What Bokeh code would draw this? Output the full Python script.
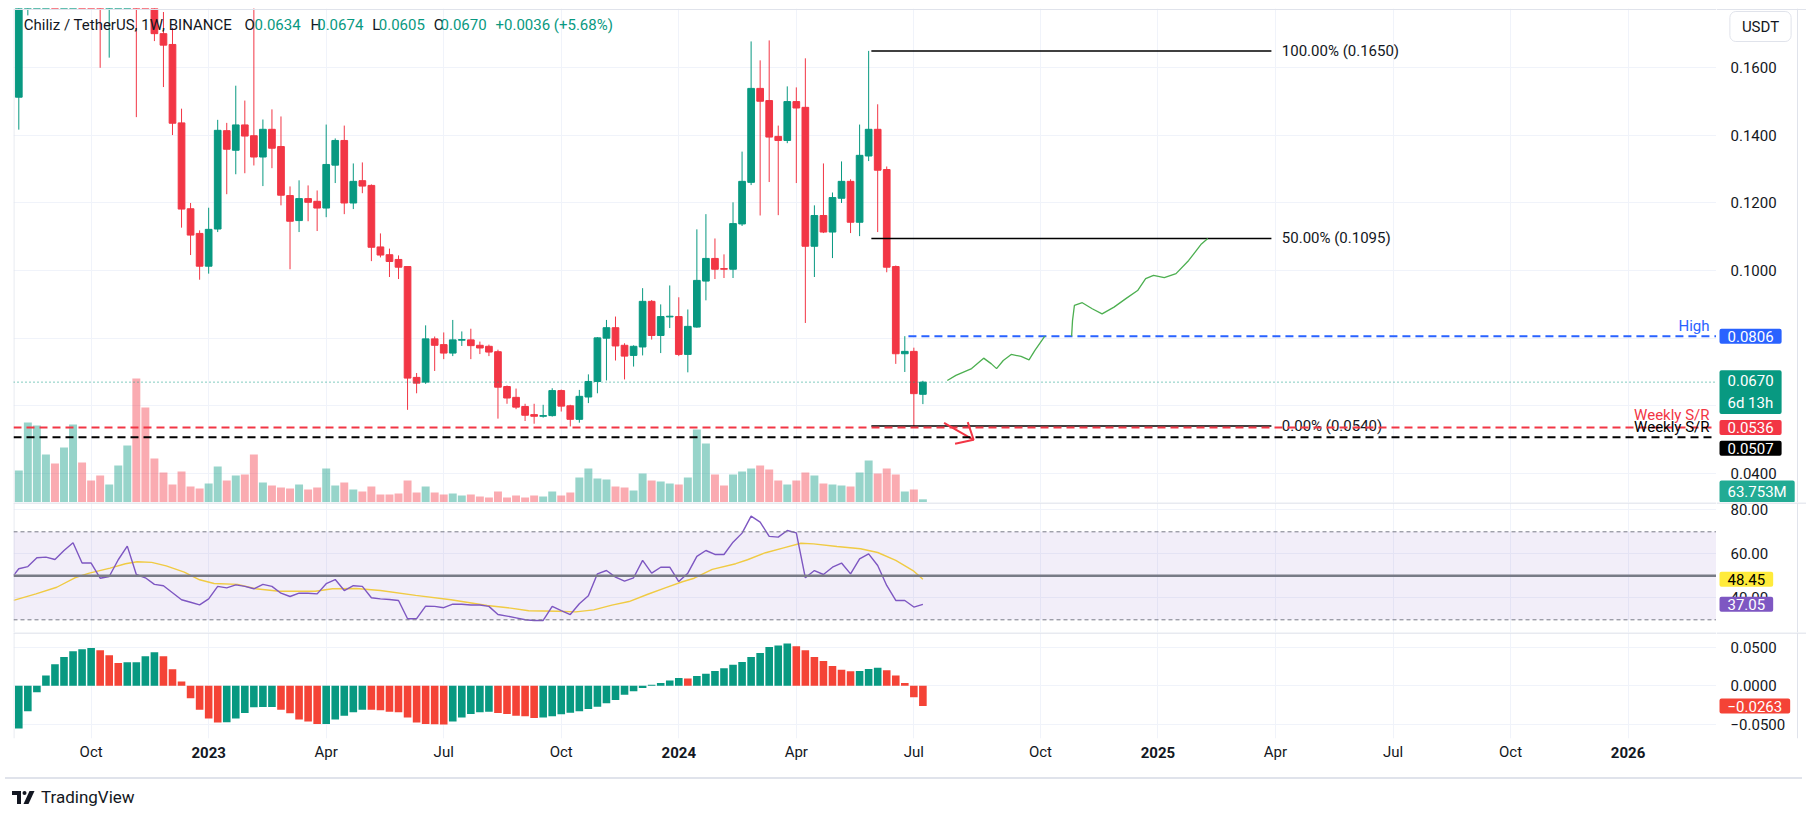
import numpy as np
from bokeh.plotting import figure
from bokeh.models import (Range1d, FixedTicker, Label, Span, BoxAnnotation, ColumnDataSource, Div,
                          LinearAxis)
from bokeh.layouts import column, row
from bokeh.embed import file_html
from bokeh.resources import INLINE
from bokeh.core.properties import value

# ---------------- data (weekly bars; x = weeks since Mon 1 Aug 2022) ----------------
weeks = list(range(1, 102))
opens = [
    0.1513, 0.2050, 0.2280, 0.2400, 0.2450, 0.2250, 0.2320, 0.2500, 0.2350, 0.2150,
    0.1900, 0.2050, 0.2150, 0.2250, 0.1900, 0.1830, 0.1701, 0.1669, 0.1437, 0.1183,
    0.1110, 0.1013, 0.1123, 0.1414, 0.1356, 0.1431, 0.1399, 0.1336, 0.1418, 0.1367,
    0.1222, 0.1148, 0.1213, 0.1205, 0.1185, 0.1312, 0.1385, 0.1200, 0.1266, 0.1252,
    0.1070, 0.1047, 0.1033, 0.1012, 0.0684, 0.0670, 0.0798, 0.0781, 0.0756, 0.0794,
    0.0795, 0.0779, 0.0776, 0.0760, 0.0657, 0.0625, 0.0598, 0.0574, 0.0569, 0.0571,
    0.0645, 0.0600, 0.0560, 0.0626, 0.0672, 0.0800, 0.0831, 0.0779, 0.0749, 0.0774,
    0.0909, 0.0808, 0.0863, 0.0864, 0.0752, 0.0833, 0.0969, 0.1036, 0.1006, 0.1004,
    0.1138, 0.1261, 0.1539, 0.1503, 0.1397, 0.1385, 0.1500, 0.1483, 0.1072, 0.1163,
    0.1114, 0.1214, 0.1264, 0.1143, 0.1339, 0.1418, 0.1299, 0.1012, 0.0754, 0.0761, 0.0634]
highs = [
    0.2150, 0.2450, 0.2550, 0.2600, 0.2500, 0.2400, 0.2650, 0.2550, 0.2400, 0.2220,
    0.2150, 0.2250, 0.2350, 0.2300, 0.1950, 0.1880, 0.1765, 0.1718, 0.1479, 0.1200,
    0.1119, 0.1186, 0.1446, 0.1437, 0.1547, 0.1503, 0.1850, 0.1447, 0.1477, 0.1456,
    0.1249, 0.1267, 0.1252, 0.1237, 0.1432, 0.1391, 0.1429, 0.1317, 0.1320, 0.1255,
    0.1110, 0.1065, 0.1045, 0.1012, 0.0697, 0.0838, 0.0805, 0.0817, 0.0854, 0.0820,
    0.0828, 0.0790, 0.0781, 0.0766, 0.0660, 0.0651, 0.0606, 0.0606, 0.0603, 0.0652,
    0.0648, 0.0603, 0.0647, 0.0693, 0.0803, 0.0854, 0.0864, 0.0785, 0.0779, 0.0948,
    0.0913, 0.0900, 0.0956, 0.0921, 0.0885, 0.1122, 0.1167, 0.1095, 0.1048, 0.1202,
    0.1352, 0.1678, 0.1622, 0.1681, 0.1429, 0.1545, 0.1542, 0.1628, 0.1193, 0.1317,
    0.1231, 0.1323, 0.1270, 0.1432, 0.1650, 0.1492, 0.1308, 0.1015, 0.0806, 0.0772, 0.0674]
lows = [
    0.1417, 0.1755, 0.2150, 0.2250, 0.2150, 0.2100, 0.2200, 0.2250, 0.2000, 0.1600,
    0.1630, 0.1950, 0.2050, 0.1454, 0.1790, 0.1679, 0.1543, 0.1401, 0.1127, 0.1046,
    0.0973, 0.0991, 0.1114, 0.1226, 0.1285, 0.1288, 0.1311, 0.1250, 0.1303, 0.1193,
    0.1004, 0.1114, 0.1146, 0.1117, 0.1158, 0.1259, 0.1167, 0.1182, 0.1229, 0.1028,
    0.1039, 0.0981, 0.0975, 0.0588, 0.0637, 0.0665, 0.0703, 0.0738, 0.0747, 0.0777,
    0.0738, 0.0753, 0.0747, 0.0562, 0.0606, 0.0590, 0.0555, 0.0547, 0.0565, 0.0568,
    0.0583, 0.0539, 0.0550, 0.0608, 0.0637, 0.0675, 0.0734, 0.0678, 0.0716, 0.0749,
    0.0796, 0.0756, 0.0830, 0.0747, 0.0699, 0.0831, 0.0912, 0.0975, 0.0978, 0.0978,
    0.1132, 0.1253, 0.1163, 0.1262, 0.1164, 0.1377, 0.1259, 0.0845, 0.0981, 0.1111,
    0.1037, 0.1200, 0.1111, 0.1102, 0.1324, 0.1114, 0.0995, 0.0724, 0.0700, 0.0540, 0.0605]
closes = [
    0.2050, 0.2280, 0.2400, 0.2450, 0.2250, 0.2320, 0.2500, 0.2350, 0.2150, 0.1900,
    0.2050, 0.2150, 0.2250, 0.1900, 0.1830, 0.1701, 0.1667, 0.1436, 0.1182, 0.1105,
    0.1013, 0.1122, 0.1415, 0.1359, 0.1431, 0.1398, 0.1336, 0.1418, 0.1362, 0.1223,
    0.1146, 0.1213, 0.1202, 0.1185, 0.1314, 0.1385, 0.1200, 0.1264, 0.1250, 0.1069,
    0.1046, 0.1027, 0.1010, 0.0682, 0.0667, 0.0798, 0.0779, 0.0756, 0.0795, 0.0796,
    0.0778, 0.0771, 0.0759, 0.0655, 0.0623, 0.0596, 0.0572, 0.0569, 0.0571, 0.0645,
    0.0599, 0.0560, 0.0628, 0.0672, 0.0801, 0.0831, 0.0777, 0.0747, 0.0776, 0.0909,
    0.0808, 0.0864, 0.0865, 0.0752, 0.0835, 0.0971, 0.1036, 0.1004, 0.1004, 0.1139,
    0.1264, 0.1539, 0.1501, 0.1395, 0.1385, 0.1500, 0.1481, 0.1072, 0.1163, 0.1114,
    0.1216, 0.1264, 0.1143, 0.1341, 0.1418, 0.1297, 0.1010, 0.0754, 0.0761, 0.0636, 0.0670]
volumes_m = [
    640, 1600, 1540, 960, 780, 1100, 1560, 800, 440, 540,
    360, 740, 1140, 2480, 1900, 880, 600, 360, 620, 320,
    280, 380, 720, 440, 540, 560, 960, 400, 340, 300,
    280, 360, 260, 300, 680, 340, 400, 260, 220, 320,
    160, 160, 180, 440, 200, 320, 200, 160, 180, 140,
    160, 120, 100, 220, 100, 140, 100, 140, 120, 220,
    140, 200, 500, 680, 480, 460, 320, 300, 240, 580,
    440, 420, 380, 360, 500, 1460, 1180, 560, 340, 560,
    620, 680, 740, 660, 440, 360, 440, 600, 540, 380,
    360, 340, 320, 600, 840, 580, 680, 560, 220, 260, 63.753]
rsi_weeks = [0.42] + weeks
rsi_values = [50.2,
    53.2, 54.2, 58.2, 58.5, 57.4, 61.5, 65.0, 55.8, 55.8, 48.9,
    49.7, 57.3, 63.5, 50.6, 49.1, 46.1, 45.5, 42.3, 39.1, 38.0,
    36.8, 39.5, 45.2, 44.5, 45.9, 45.2, 44.1, 46.1, 45.2, 42.1,
    40.6, 42.1, 42.1, 41.8, 46.4, 48.3, 43.3, 45.5, 45.2, 40.0,
    39.5, 39.2, 38.8, 30.5, 30.5, 36.2, 36.1, 35.5, 37.1, 37.1,
    36.7, 36.7, 36.1, 32.4, 31.7, 30.9, 30.0, 29.7, 29.7, 36.1,
    34.2, 32.4, 37.3, 40.9, 50.9, 52.4, 49.4, 47.6, 49.1, 57.0,
    51.2, 53.9, 53.9, 47.4, 51.2, 58.8, 61.5, 59.7, 59.7, 65.3,
    69.4, 77.1, 74.4, 67.9, 67.6, 70.6, 69.5, 49.1, 52.4, 50.6,
    53.9, 55.8, 50.9, 57.7, 60.0, 54.7, 45.6, 38.8, 38.8, 35.8, 37.05]
rsi_ma_weeks = [0.42, 2.9, 5.2, 7.2, 8.8, 11.1, 12.8, 14.1, 15.7, 17.3, 19.3, 21.0, 22.6, 25.2, 27.2,
                29.8, 33.8, 35.7, 38.3, 41.0, 44.9, 48.8, 52.8, 55.4, 57.4, 60.6, 62.6, 64.6, 66.6,
                68.5, 70.5, 72.5, 74.4, 75.7, 77.7, 80.3, 81.6, 83.6, 85.6, 87.5, 88.9, 91.5, 94.1,
                96.0, 98.0, 100.0, 101.0]
rsi_ma_values = [38.8, 41.8, 44.8, 49.1, 51.2, 53.5, 55.5, 56.4, 56.1, 54.5, 51.7, 48.2, 46.5, 46.1, 44.1,
                 43.0, 43.0, 44.1, 44.2, 43.3, 41.1, 39.1, 36.5, 35.3, 34.1, 33.9, 33.6, 34.5, 36.7,
                 38.3, 41.5, 44.5, 47.3, 48.9, 52.9, 55.5, 57.3, 60.5, 62.7, 64.8, 64.5, 63.3, 62.3,
                 60.6, 57.0, 52.1, 48.45]
macd_hist = [
    -0.0552, -0.0330, -0.0083, 0.0135, 0.0278, 0.0374, 0.0448, 0.0474, 0.0491, 0.0461,
    0.0396, 0.0296, 0.0304, 0.0306, 0.0383, 0.0435, 0.0383, 0.0213, 0.0057, -0.0161,
    -0.0309, -0.0422, -0.0474, -0.0472, -0.0422, -0.0352, -0.0278, -0.0276, -0.0274, -0.0309,
    -0.0357, -0.0435, -0.0461, -0.0496, -0.0494, -0.0435, -0.0387, -0.0343, -0.0309, -0.0311,
    -0.0317, -0.0335, -0.0343, -0.0409, -0.0474, -0.0496, -0.0498, -0.0500, -0.0461, -0.0409,
    -0.0365, -0.0343, -0.0335, -0.0352, -0.0365, -0.0387, -0.0396, -0.0417, -0.0409, -0.0396,
    -0.0370, -0.0348, -0.0330, -0.0300, -0.0270, -0.0226, -0.0183, -0.0117, -0.0070, -0.0030,
    0.0013, 0.0035, 0.0070, 0.0100, 0.0096, 0.0126, 0.0157, 0.0191, 0.0226, 0.0274,
    0.0309, 0.0374, 0.0426, 0.0504, 0.0522, 0.0548, 0.0513, 0.0461, 0.0374, 0.0322,
    0.0257, 0.0209, 0.0187, 0.0191, 0.0217, 0.0235, 0.0200, 0.0135, 0.0035, -0.0148, -0.0263]

time_tick_weeks = [9, 22, 35, 48, 61, 74, 87, 100, 114, 127, 140, 153, 166, 179]
time_tick_labels = ["Oct", "2023", "Apr", "Jul", "Oct", "2024", "Apr", "Jul", "Oct", "2025",
                    "Apr", "Jul", "Oct", "2026"]
price_grid = [0.04, 0.06, 0.08, 0.10, 0.12, 0.14, 0.16]
price_axis_ticks = [0.04, 0.10, 0.12, 0.14, 0.16]
price_axis_labels = ["0.0400", "0.1000", "0.1200", "0.1400", "0.1600"]
rsi_ticks = [40, 60, 80]
rsi_tick_labels = ["40.00", "60.00", "80.00"]
macd_ticks = [-0.05, 0.0, 0.05]
macd_tick_labels = ["\u22120.0500", "0.0000", "0.0500"]

fib_levels = [0.1650, 0.1095, 0.0540]
fib_texts = ["100.00% (0.1650)", "50.00% (0.1095)", "0.00% (0.0540)"]
fib_start, fib_end, fib_text_x = 95.3, 139.55, 140.7
high_level, high_start = 0.0806, 99.4
sr_red_level, sr_black_level = 0.0536, 0.0507
last_price = 0.0670
path1_weeks = [103.7, 104.65, 106.39, 107.72, 108.58, 109.15, 109.89, 110.77, 111.86, 112.74, 113.39, 114.49]
path1_price = [0.0675, 0.0690, 0.0710, 0.0741, 0.0724, 0.0710, 0.0734, 0.0752, 0.0746, 0.0736, 0.0764, 0.0806]
path2_weeks = [117.45, 117.55, 117.76, 118.63, 119.73, 120.82, 122.14, 123.45, 124.75, 125.64, 126.51, 127.70,
               129.0, 130.40, 131.81, 132.51]
path2_price = [0.0806, 0.0852, 0.0897, 0.0905, 0.0887, 0.0872, 0.0892, 0.0917, 0.0941, 0.0976, 0.0986, 0.0979,
               0.0991, 0.1030, 0.1079, 0.1095]
arrow_weeks = [[103.34, 106.61], [105.96, 106.61, 104.56]]
arrow_price = [[0.05497, 0.04994], [0.05515, 0.04994, 0.04876]]

# ---------------- style / layout ----------------
UP, DOWN, DARK, GRID, SEP = "#089981", "#f23645", "#131722", "#f0f3fa", "#e0e3eb"
FONT = "Roboto"
LEFT, MAIN_W, SIDE_W = 13, 1716, 90
TOP, H_PRICE, H_RSI, H_MACD, AXIS_H = 8, 494, 130, 106, 34
LABEL_H = 18   # height of one row of 15px axis labels

x_range = Range1d(0.414, 188.78)

o, c = np.array(opens), np.array(closes)
up = c >= o
src = ColumnDataSource(dict(x=weeks, h=highs, l=lows, top=np.maximum(o, c), bottom=np.minimum(o, c),
                            color=np.where(up, UP, DOWN).tolist(), vol=volumes_m))


def pane(frame_h, y_range, top=0, bottom=0):
    h = frame_h + top + bottom
    f = figure(width=MAIN_W, height=h, x_range=x_range, y_range=y_range, output_backend="svg",
               toolbar_location=None, y_axis_location=None,
               x_axis_location=("below" if bottom else None),
               min_border_left=LEFT, min_border_right=0, min_border_top=top, min_border_bottom=bottom)
    s = figure(width=SIDE_W, height=h, x_range=Range1d(0, SIDE_W), y_range=y_range, output_backend="svg",
               toolbar_location=None, y_axis_location=None, x_axis_location=None,
               min_border_left=0, min_border_right=0, min_border_top=top, min_border_bottom=bottom)
    for fig in (f, s):
        fig.outline_line_color = None
        fig.background_fill_color = "white"
        fig.border_fill_color = "white"
    s.xgrid.visible = False
    s.ygrid.visible = False
    f.xgrid.ticker = FixedTicker(ticks=time_tick_weeks)
    f.xgrid.grid_line_color = GRID
    f.ygrid.grid_line_color = GRID
    f.add_layout(Span(location=x_range.start + 0.05, dimension="height", line_color=SEP, line_width=1))
    s.add_layout(Span(location=81, dimension="height", line_color=SEP, line_width=1))
    return f, s


def tick_texts(s, ticks, labels):
    s.text(x=[14] * len(ticks), y=ticks, text=labels, text_font=value(FONT), text_font_size="15px",
           text_baseline="middle", text_align="left", text_color=DARK)


def badge(s, y, text, bg, color="white", y_units="data", y_offset=0):
    s.add_layout(Label(x=3, y=y, x_units="data", y_units=y_units, text=text,
                       text_font=FONT, text_font_size="15px", text_color=color,
                       text_baseline="middle", text_align="left", y_offset=y_offset,
                       background_fill_color=bg, background_fill_alpha=1.0,
                       padding=dict(left=8, right=8, top=2, bottom=2), border_radius=2))


# ---------------- price pane ----------------
p, ps = pane(H_PRICE, Range1d(0.03139, 0.17754), top=TOP)
p.ygrid.ticker = FixedTicker(ticks=price_grid)
p.extra_y_ranges = {"vol": Range1d(0, H_PRICE * 20)}

p.vbar(x="x", top="vol", bottom=0, width=0.88, source=src, y_range_name="vol",
       fill_color="color", fill_alpha=0.42, line_color=None)

p.add_layout(Span(location=last_price, dimension="width", line_color=UP, line_dash="1 3", line_width=1))
p.add_layout(Span(location=sr_red_level, dimension="width", line_color=DOWN, line_dash="8 5", line_width=2))
p.add_layout(Span(location=sr_black_level, dimension="width", line_color="black", line_dash="8 5", line_width=2))

p.segment(x0="x", y0="h", x1="x", y1="l", color="color", line_width=1, source=src)
p.vbar(x="x", top="top", bottom="bottom", width=0.74, fill_color="color", line_color="color",
       line_width=1, source=src)

p.segment(x0=[high_start], y0=[high_level], x1=[x_range.end], y1=[high_level],
          line_color="#2962ff", line_width=2, line_dash="8 5")
p.segment(x0=[fib_start] * 3, y0=fib_levels, x1=[fib_end] * 3, y1=fib_levels,
          line_color="black", line_width=1.5)
p.text(x=[fib_text_x] * 3, y=fib_levels, text=fib_texts, text_font=value(FONT),
       text_font_size="15px", text_baseline="middle", text_color=DARK)

p.line(path1_weeks, path1_price, line_color="#4caf50", line_width=1.3)
p.line(path2_weeks, path2_price, line_color="#4caf50", line_width=1.3)
p.multi_line(arrow_weeks, arrow_price, line_color=DOWN, line_width=2)

header_parts = [(23.3, "Chiliz / TetherUS, 1W, BINANCE", DARK), (244, "O", DARK), (254, "0.0634", UP),
                (310, "H", DARK), (316.7, "0.0674", UP), (371.7, "L", DARK), (378.3, "0.0605", UP),
                (433.3, "C", DARK), (440, "0.0670", UP), (495, "+0.0036 (+5.68%)", UP)]
for xr, t, col in header_parts:
    p.add_layout(Label(x=xr - LEFT, y=H_PRICE - 16, x_units="screen", y_units="screen", text=t,
                       text_font=FONT, text_font_size="15px", text_color=col, text_baseline="middle"))

FRAME_W = MAIN_W - LEFT
p.add_layout(Label(x=FRAME_W - 7, y=high_level, x_units="screen", text="High", text_font=FONT,
                   text_font_size="15px", text_color="#2962ff", text_align="right",
                   text_baseline="alphabetic", y_offset=10))
p.add_layout(Label(x=FRAME_W - 7, y=sr_red_level, x_units="screen", text="Weekly S/R", text_font=FONT,
                   text_font_size="15px", text_color=DOWN, text_align="right",
                   text_baseline="alphabetic", y_offset=12))
p.add_layout(Label(x=FRAME_W - 7, y=sr_black_level, x_units="screen", text="Weekly S/R", text_font=FONT,
                   text_font_size="15px", text_color="black", text_align="right",
                   text_baseline="alphabetic", y_offset=10))

tick_texts(ps, price_axis_ticks, price_axis_labels)
ps.add_layout(Label(x=44, y=H_PRICE - 18, x_units="data", y_units="screen", text="USDT",
                    text_font=FONT, text_font_size="15px", text_color=DARK, text_align="center",
                    text_baseline="middle", background_fill_color="white", border_line_color=SEP,
                    padding=dict(left=12, right=12, top=6, bottom=6), border_radius=6))
badge(ps, high_level, "0.0806", "#2962ff")
badge(ps, last_price, "0.0670\n6d 13h", UP, y_offset=-10)
badge(ps, sr_red_level, "0.0536", DOWN)
badge(ps, sr_black_level, "0.0507", "black", y_offset=-11)
badge(ps, 11, "63.753M", "#22ab94", y_units="screen")
for fig in (p, ps):
    fig.add_layout(Span(location=p.y_range.end - 0.0003, dimension="width", line_color=SEP, line_width=1))

# ---------------- RSI pane ----------------
r, rs = pane(H_RSI, Range1d(24.23, 83.32))
r.ygrid.ticker = FixedTicker(ticks=rsi_ticks)
r.add_layout(BoxAnnotation(bottom=30, top=70, fill_color="#7e57c2", fill_alpha=0.1, line_color=None))
r.add_layout(Span(location=70, dimension="width", line_color="#787b86", line_dash="4 3", line_width=1))
r.add_layout(Span(location=30, dimension="width", line_color="#787b86", line_dash="4 3", line_width=1))
r.add_layout(Span(location=50, dimension="width", line_color="#787b86", line_width=2.5))
r.line(rsi_ma_weeks, rsi_ma_values, line_color="#fdd835", line_width=1.4)
r.line(rsi_weeks, rsi_values, line_color="#7e57c2", line_width=1.4)
tick_texts(rs, rsi_ticks, rsi_tick_labels)
badge(rs, 48.45, "48.45", "#ffeb3b", color="black")
badge(rs, 37.05, "37.05", "#7e57c2")

# ---------------- MACD pane ----------------
m, ms = pane(H_MACD, Range1d(-0.06826, 0.06904), bottom=AXIS_H)
m.ygrid.ticker = FixedTicker(ticks=macd_ticks)
mh = np.array(macd_hist)
rising = np.concatenate([[True], mh[1:] > mh[:-1]])
m.vbar(x=weeks, top=macd_hist, bottom=0, width=0.84, line_color=None,
       fill_color=np.where(rising, UP, "#f44336").tolist())
tick_texts(ms, macd_ticks, macd_tick_labels)
badge(ms, -0.0263, "\u22120.0263", "#f44336")

# time axis: years (bold) on the inner axis, months on an outer axis pulled up onto the same row
year_labels = {t: (lab if lab.isdigit() else "") for t, lab in zip(time_tick_weeks, time_tick_labels)}
month_labels = {t: ("" if lab.isdigit() else lab) for t, lab in zip(time_tick_weeks, time_tick_labels)}
month_axis = LinearAxis()
m.add_layout(month_axis, "below")
for ax, labels, standoff, style in ((m.xaxis[0], year_labels, 8, "bold"),
                                    (month_axis, month_labels, 8 - (8 + LABEL_H), "normal")):
    ax.ticker = FixedTicker(ticks=time_tick_weeks)
    ax.major_label_overrides = labels
    ax.axis_line_color = None
    ax.major_tick_line_color = None
    ax.minor_tick_line_color = None
    ax.major_tick_out = 0
    ax.major_tick_in = 0
    ax.major_label_standoff = standoff
    ax.major_label_text_font = FONT
    ax.major_label_text_font_size = "15px"
    ax.major_label_text_font_style = style
    ax.major_label_text_color = DARK

for fig, yr in ((r, r.y_range), (rs, r.y_range), (m, m.y_range), (ms, m.y_range)):
    fig.add_layout(Span(location=yr.end - (yr.end - yr.start) * 0.004, dimension="width",
                        line_color=SEP, line_width=1.5))

logo = Div(text=(
    '<div style="width:1797px;border-top:2px solid #e0e3eb;padding:6px 0 0 7px;">'
    '<div style="display:flex;align-items:center;gap:6px;'
    'font-family:Roboto;font-size:17px;color:#131722;">'
    '<svg width="23" height="13" viewBox="0 0 23 13">'
    '<rect x="0" y="0" width="9" height="4" fill="#131722"/>'
    '<rect x="5" y="0" width="4" height="13" fill="#131722"/>'
    '<circle cx="12.5" cy="2" r="2" fill="#131722"/>'
    '<polygon points="17.5,0 22.5,0 16.5,13 11.5,13" fill="#131722"/></svg>'
    '<span>TradingView</span></div></div>'), width=MAIN_W + SIDE_W, height=28)

layout = column(row(p, ps, spacing=0), row(r, rs, spacing=0), row(m, ms, spacing=0), logo, spacing=0)
open("out.html", "w").write(file_html(layout, INLINE))
